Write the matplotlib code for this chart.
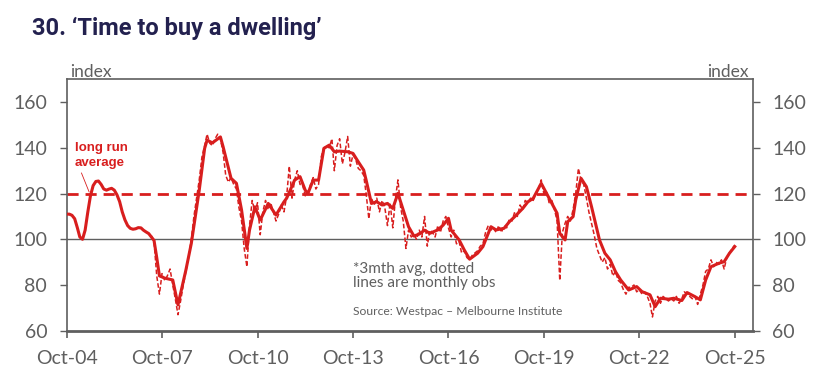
import matplotlib
matplotlib.use('Agg')
import matplotlib.pyplot as plt
import matplotlib.dates as mdates
import pandas as pd

# 3 month average (key points)
avg_dates = ['2004-10', '2004-11', '2004-12', '2005-01', '2005-02', '2005-03', '2005-04', '2005-05',
             '2005-06', '2005-07', '2005-08', '2005-09', '2005-10', '2005-11', '2005-12', '2006-01',
             '2006-02', '2006-03', '2006-04', '2006-05', '2006-06', '2006-07', '2006-08', '2006-09',
             '2006-10', '2006-11', '2006-12', '2007-01', '2007-02', '2007-03', '2007-04', '2007-05',
             '2007-06', '2007-07', '2007-08', '2007-09', '2007-11', '2008-02',
             '2008-04', '2008-07', '2008-09', '2008-12', '2009-02', '2009-03', '2009-05', '2009-08',
             '2009-09', '2009-12', '2010-02', '2010-04', '2010-06', '2010-07', '2010-09', '2010-11',
             '2011-02', '2011-05', '2011-08', '2011-09', '2011-12', '2012-02', '2012-04', '2012-05',
             '2012-07', '2012-09', '2012-11', '2013-01', '2013-03', '2013-05', '2013-08', '2013-10',
             '2013-12', '2014-02', '2014-03', '2014-05', '2014-07', '2014-09', '2014-11', '2015-01',
             '2015-03', '2015-05', '2015-07', '2015-09', '2015-11', '2016-01', '2016-03', '2016-06',
             '2016-08', '2016-10', '2016-11', '2017-02', '2017-04', '2017-06', '2017-09', '2017-11',
             '2018-02', '2018-04', '2018-07', '2018-09', '2018-11', '2019-02', '2019-04', '2019-06',
             '2019-09', '2019-11', '2020-01', '2020-03', '2020-04', '2020-06', '2020-07', '2020-09',
             '2020-10', '2020-12', '2021-02', '2021-04', '2021-07', '2021-09', '2021-11', '2022-01',
             '2022-03', '2022-06', '2022-09', '2022-11', '2023-02', '2023-04', '2023-06', '2023-09',
             '2023-11', '2024-02', '2024-04', '2024-07', '2024-09', '2024-11', '2025-01', '2025-04',
             '2025-06', '2025-08', '2025-10']
avg_vals = [111, 111, 110.5, 109, 105, 101, 100, 104,
            112, 119, 123.5, 125.3, 125.5, 124, 122, 121.5,
            122, 122.3, 121.5, 119.5, 116.5, 112, 108.5, 106,
            104.8, 104.4, 104.6, 105.1, 105, 104, 103.2, 102.5,
            101, 99.5, 92, 84, 83, 82.2,
            71.3, 86.6, 98.2, 121.5, 139.8, 143.4, 142.2, 144.8,
            140.5, 126.7, 124.5, 112.8, 96, 104, 114.2, 108.4,
            115.7, 110.6, 116.4, 118, 125.9, 127.4, 121.5, 120,
            125.9, 125.9, 139.8, 141.2, 138.3, 138.6, 138.3, 137.6,
            133.9, 130.3, 125.9, 115.7, 116.4, 115, 115.7, 113.5,
            120.1, 112.8, 105.5, 101.4, 102.3, 104, 102.6, 104.1,
            106.2, 109.2, 104, 99.7, 95.3, 91.3, 93.9, 96.8,
            105.5, 104.1, 104.8, 107.7, 109.9, 113.5, 116.4, 117.9,
            124.5, 120.1, 115.7, 111.4, 102.6, 99.7, 107.7, 109.9,
            117.2, 126.7, 123, 114.2, 99.7, 93.9, 91, 85.8,
            82.2, 77.8, 79.3, 77.1, 75.7, 70.5, 74.2, 73.8,
            74.2, 73.2, 76.7, 74.9, 73.5, 82.2, 88, 89.5,
            90.2, 93.9, 96.8]

# monthly observations, Jun-07 to Oct-25
mon_start = '2007-06'
mon_vals = [101.5, 99, 84, 76, 85, 82, 84, 87, 80, 74, 67, 73, 80, 86, 92, 100, 110, 118, 126,      # to Dec-08
            136, 141, 146, 142, 141, 144, 146, 144, 138, 128, 125, 127,                         # 2009
            124, 122, 114, 108, 96, 88, 106, 117, 112, 116, 102, 112,                           # 2010
            117, 113, 116, 112, 108, 111, 115, 112, 119, 132, 118, 126,                         # 2011
            130, 124, 124, 119, 120, 124, 127, 122, 124, 136, 140, 141,                         # 2012
            140, 144, 130, 141, 144, 133, 138, 145, 132, 137, 135, 131,                         # 2013
            130, 128, 120, 109, 118, 115, 118, 112, 117, 114, 106, 116,                         # 2014
            105, 118, 126, 114, 108, 96, 104, 101, 102, 100, 104, 101,                          # 2015
            110, 97, 104, 103, 101, 106, 103, 108, 110, 105, 101, 104,                          # 2016
            98, 99, 94, 95, 92, 91, 93, 94, 95, 97, 98, 103,                                    # 2017
            106, 104, 105, 103, 106, 103, 106, 105, 109, 108, 112, 110,                         # 2018
            115, 113, 117, 116, 118, 117, 120, 122, 126, 120, 121, 116,                         # 2019
            117, 113, 108, 82, 103, 107, 110, 108, 113, 120, 131, 126,                          # 2020
            124, 118, 112, 107, 102, 96, 93, 90, 92, 87, 89, 84,                                # 2021
            86, 82, 81, 78, 76, 79, 79, 80, 77, 78, 76, 77,                                     # 2022
            75, 72, 66, 73, 75, 72, 75, 74, 73, 74, 73, 75,                                     # 2023
            72, 74, 77, 76, 75, 74, 75, 71.5, 76, 80, 86, 87,                                   # 2024
            91, 88, 90, 89, 91, 87, 92, 94, 96, 97.5]                                           # 2025

long_run_avg = 120
yticks = [60, 80, 100, 120, 140, 160]
xtick_years = ['2004', '2007', '2010', '2013', '2016', '2019', '2022', '2025']

red = '#d81e1e'
grey = '#5f5f5f'

plt.rcParams['font.family'] = ['Lato', 'DejaVu Sans']

fig = plt.figure(figsize=(8.22, 3.76), dpi=100)
ax = fig.add_axes([0.0811, 0.1205, 0.8346, 0.6685])

ad = pd.to_datetime(avg_dates)
md = pd.date_range(mon_start, periods=len(mon_vals), freq='MS')

ax.axhline(100, color=grey, lw=1.0, zorder=1)
ax.axhline(long_run_avg, color=red, lw=2, ls=(0, (4, 2.5)), zorder=2)
ax.plot(md, mon_vals, color=red, lw=1.1, ls=(0, (3, 1.5)), zorder=3)
ax.plot(ad, avg_vals, color=red, lw=2.2, zorder=4, solid_joinstyle='round')

ax.set_ylim(60, 170)
ax.set_yticks(yticks)
ax.set_xlim(pd.Timestamp('2004-10-01'), pd.Timestamp('2026-04-25'))
ax.set_xticks([pd.Timestamp(y + '-10-01') for y in xtick_years])
ax.xaxis.set_major_formatter(mdates.DateFormatter('Oct-%y'))

for s in ['left', 'right', 'top']:
    ax.spines[s].set_color(grey)
    ax.spines[s].set_linewidth(1.2)
ax.spines['bottom'].set_color(grey)
ax.spines['bottom'].set_linewidth(2)

ax.tick_params(axis='y', left=True, right=True, labelleft=True, labelright=True,
               length=5, width=1, color=grey, labelcolor=grey, labelsize=14, pad=9)
ax.tick_params(axis='x', length=5, width=1.2, color=grey, labelcolor=grey, labelsize=14, pad=9)

fig.text(0.039, 0.925, '30. \u2018Time to buy a dwelling\u2019', fontsize=17, fontweight='bold',
         color='#23214f', family=['Roboto', 'DejaVu Sans'], va='center')
fig.text(0.085, 0.795, 'index', fontsize=12.5, color=grey, va='baseline')
fig.text(0.911, 0.795, 'index', fontsize=12.5, color=grey, va='baseline', ha='right')

ax.text(pd.Timestamp('2005-01-01'), 142.5, 'long run\naverage', color=red, fontsize=9.5,
        fontweight='bold', family=['Liberation Sans', 'DejaVu Sans'], va='top', linespacing=1.3)
ax.plot([pd.Timestamp('2005-03-20'), pd.Timestamp('2005-06-15')], [129, 120.8], color=red, lw=0.6)

ax.text(pd.Timestamp('2013-10-01'), 84, '*3mth avg, dotted\nlines are monthly obs', color=grey,
        fontsize=11, va='center', linespacing=1.05)
ax.text(pd.Timestamp('2013-10-01'), 68.5, 'Source: Westpac \u2013 Melbourne Institute', color=grey,
        fontsize=8.7, va='center')

fig.savefig('out.png', dpi=100, facecolor='white')
